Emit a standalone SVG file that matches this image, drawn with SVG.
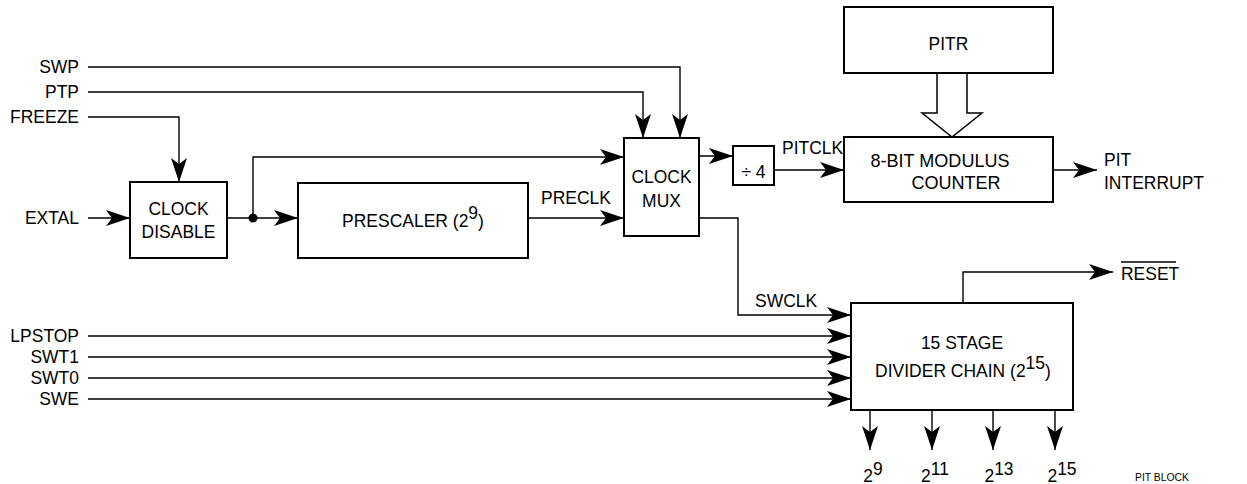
<svg xmlns="http://www.w3.org/2000/svg" width="1247" height="484" viewBox="0 0 1247 484">
<style>
text{font-family:"Liberation Sans",Arial,sans-serif;font-size:19px;fill:#000}
.r{text-anchor:end}
.m{text-anchor:middle}
.box{fill:#fff;stroke:#000;stroke-width:2}
.w{fill:none;stroke:#000;stroke-width:1.4}
.a{marker-end:url(#ah)}
.sm{font-size:11.5px}
</style>
<defs>
<marker id="ah" markerUnits="userSpaceOnUse" markerWidth="26" markerHeight="18" refX="24" refY="8" orient="auto">
<path d="M0,0 L24,8 L0,16 L6,8 Z" fill="#000"/>
</marker>
</defs>
<g id="connectors">
<path class="w a" d="M88,67 H680 V138"/>
<path class="w a" d="M88,92 H643 V138"/>
<path class="w a" d="M88,117 H179 V182"/>
<path class="w a" d="M88,218 H130"/>
<path class="w a" d="M227,218 H298"/>
<path class="w a" d="M253,218 V157 H624"/>
<circle cx="253" cy="218" r="4.5" fill="#000"/>
<path class="w a" d="M528,218 H624"/>
<path class="w a" d="M699,156 H733"/>
<path class="w a" d="M774,170 H844"/>
<path class="w a" d="M1053,170 H1097"/>
<path class="w a" d="M699,218 H738 V315 H851"/>
<path class="w a" d="M88,336 H851"/>
<path class="w a" d="M88,357 H851"/>
<path class="w a" d="M88,378 H851"/>
<path class="w a" d="M88,399 H851"/>
<path class="w a" d="M963,303 V272 H1113"/>
<path class="w a" d="M870,410 V450"/>
<path class="w a" d="M932,410 V450"/>
<path class="w a" d="M993,410 V450"/>
<path class="w a" d="M1055,410 V450"/>
<path d="M937,73 V113 H922 L952,137 L982,113 H967 V73" fill="#fff" stroke="#000" stroke-width="1.5"/>
</g>
<g id="inputs">
<text class="r" transform="translate(79,73) scale(0.92,1)">SWP</text>
<text class="r" transform="translate(79,98) scale(0.92,1)">PTP</text>
<text class="r" transform="translate(79,123) scale(0.92,1)">FREEZE</text>
<text class="r" transform="translate(79,224) scale(0.92,1)">EXTAL</text>
<text class="r" transform="translate(79,342) scale(0.92,1)">LPSTOP</text>
<text class="r" transform="translate(79,363) scale(0.92,1)">SWT1</text>
<text class="r" transform="translate(79,384) scale(0.92,1)">SWT0</text>
<text class="r" transform="translate(79,405) scale(0.92,1)">SWE</text>
</g>
<g id="clock-disable">
<rect class="box" x="130" y="182" width="97" height="76"/>
<text class="m" transform="translate(178.5,215) scale(0.92,1)">CLOCK</text>
<text class="m" transform="translate(178.5,238) scale(0.92,1)">DISABLE</text>
</g>
<g id="prescaler">
<rect class="box" x="298" y="183" width="230" height="75"/>
<text class="m" transform="translate(413,227) scale(0.92,1)">PRESCALER (2<tspan dy="-8">9</tspan><tspan dy="8">)</tspan></text>
</g>
<g id="clock-mux">
<rect class="box" x="624" y="138" width="75" height="98"/>
<text class="m" transform="translate(661.5,183) scale(0.92,1)">CLOCK</text>
<text class="m" transform="translate(661.5,207) scale(0.92,1)">MUX</text>
</g>
<g id="div4">
<rect class="box" x="733" y="146" width="41" height="39"/>
<text class="m" transform="translate(753.5,178) scale(0.92,1)">÷ 4</text>
</g>
<g id="pitr">
<rect class="box" x="844" y="7" width="209" height="66"/>
<text class="m" transform="translate(948.5,50) scale(0.92,1)">PITR</text>
</g>
<g id="counter">
<rect class="box" x="844" y="137" width="209" height="65"/>
<text class="m" transform="translate(940,167) scale(0.95,1)">8-BIT MODULUS</text>
<text class="m" transform="translate(956,189) scale(0.95,1)">COUNTER</text>
</g>
<g id="divider">
<rect class="box" x="851" y="303" width="222" height="107"/>
<text class="m" transform="translate(962,349) scale(0.92,1)">15 STAGE</text>
<text class="m" transform="translate(963,377) scale(0.92,1)">DIVIDER CHAIN (2<tspan dy="-8">15</tspan><tspan dy="8">)</tspan></text>
</g>
<g id="labels">
<text transform="translate(541,204) scale(0.92,1)">PRECLK</text>
<text transform="translate(782,154) scale(0.92,1)">PITCLK</text>
<text transform="translate(755,307) scale(0.92,1)">SWCLK</text>
<text transform="translate(1104,166) scale(0.92,1)">PIT</text>
<text transform="translate(1104,189) scale(0.92,1)">INTERRUPT</text>
<text transform="translate(1121,280) scale(0.92,1)">RESET</text>
<line x1="1121" y1="262" x2="1176" y2="262" stroke="#000" stroke-width="1.4"/>
<text class="m" transform="translate(873,482) scale(0.92,1)">2<tspan dy="-7">9</tspan></text>
<text class="m" transform="translate(935,482) scale(0.92,1)">2<tspan dy="-7">11</tspan></text>
<text class="m" transform="translate(999,482) scale(0.92,1)">2<tspan dy="-7">13</tspan></text>
<text class="m" transform="translate(1062,482) scale(0.92,1)">2<tspan dy="-7">15</tspan></text>
<text class="sm" transform="translate(1135,481) scale(0.9,1)">PIT BLOCK</text>
</g>
</svg>
